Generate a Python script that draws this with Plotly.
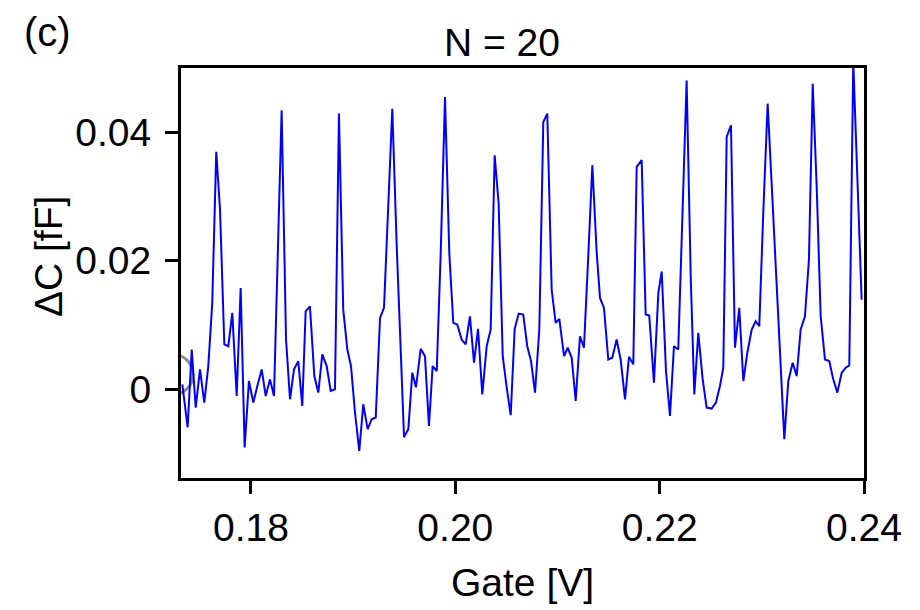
import plotly.graph_objects as go

# Gate voltage [V]
gate_v = [
    0.17328, 0.17380, 0.17420, 0.17459, 0.17501, 0.17543, 0.17582, 0.17621, 0.17660, 0.17697,
    0.17739, 0.17778, 0.17817, 0.17860, 0.17899, 0.17938, 0.17980, 0.18023, 0.18062, 0.18105,
    0.18144, 0.18186, 0.18225, 0.18267, 0.18300, 0.18343, 0.18382, 0.18421, 0.18463, 0.18502,
    0.18535, 0.18577, 0.18620, 0.18659, 0.18698, 0.18741, 0.18780, 0.18822, 0.18861, 0.18903,
    0.18943, 0.18979, 0.19018, 0.19060, 0.19099, 0.19142, 0.19181, 0.19221, 0.19263, 0.19302,
    0.19344, 0.19383, 0.19426, 0.19461, 0.19498, 0.19540, 0.19579, 0.19615, 0.19661, 0.19703,
    0.19742, 0.19778, 0.19818, 0.19857, 0.19899, 0.19941, 0.19980, 0.20019, 0.20062, 0.20101,
    0.20143, 0.20183, 0.20222, 0.20264, 0.20307, 0.20346, 0.20385, 0.20424, 0.20464, 0.20503,
    0.20542, 0.20581, 0.20620, 0.20665, 0.20704, 0.20741, 0.20780, 0.20822, 0.20861, 0.20900,
    0.20943, 0.20982, 0.21018, 0.21064, 0.21100, 0.21139, 0.21178, 0.21220, 0.21259, 0.21301,
    0.21341, 0.21384, 0.21416, 0.21455, 0.21497, 0.21536, 0.21579, 0.21618, 0.21661, 0.21700,
    0.21742, 0.21775, 0.21824, 0.21863, 0.21898, 0.21944, 0.21987, 0.22020, 0.22062, 0.22101,
    0.22140, 0.22182, 0.22221, 0.22264, 0.22304, 0.22339, 0.22378, 0.22421, 0.22460, 0.22509,
    0.22551, 0.22590, 0.22623, 0.22656, 0.22698, 0.22737, 0.22779, 0.22819, 0.22858, 0.22901,
    0.22940, 0.22975, 0.23014, 0.23057, 0.23096, 0.23139, 0.23178, 0.23220, 0.23259, 0.23302,
    0.23341, 0.23380, 0.23422, 0.23461, 0.23498, 0.23537, 0.23576, 0.23618, 0.23660, 0.23699,
    0.23739, 0.23782, 0.23821, 0.23856, 0.23895, 0.23977,
]

# Delta C [fF]
delta_c = [
    0.00078, -0.00594, 0.00620, -0.00284, 0.00310, -0.00206, 0.00361, 0.01344, 0.03695, 0.02791,
    0.00698, 0.00671, 0.01189, -0.00104, 0.01577, -0.00904, 0.00129, -0.00206, 0.00051, 0.00310,
    -0.00104, 0.00155, -0.00104, 0.02171, 0.04341, 0.00775, -0.00155, 0.00310, 0.00439, -0.00259,
    0.01214, 0.01291, 0.00206, -0.00051, 0.00543, 0.00361, -0.00026, 0.00000, 0.04290, 0.01240,
    0.00620, 0.00361, -0.00361, -0.00957, -0.00233, -0.00620, -0.00465, -0.00439, 0.01112, 0.01267,
    0.02817, 0.04367, 0.02248, 0.00775, -0.00744, -0.00620, 0.00259, 0.00031, 0.00631, 0.00516,
    -0.00569, 0.00361, 0.00284, 0.02119, 0.04547, 0.02119, 0.01034, 0.01008, 0.00775, 0.00698,
    0.01136, 0.00414, 0.00941, -0.00078, 0.00671, 0.00930, 0.03643, 0.02894, 0.00516, 0.00026,
    -0.00403, 0.00941, 0.01178, 0.01163, 0.00671, 0.00439, -0.00051, 0.00930, 0.04160, 0.04290,
    0.01550, 0.01034, 0.01096, 0.00516, 0.00647, 0.00491, -0.00181, 0.00826, 0.00647, 0.02067,
    0.03488, 0.02119, 0.01422, 0.01267, 0.00465, 0.00491, 0.00775, 0.00465, -0.00155, 0.00507,
    0.00388, 0.03462, 0.03566, 0.01163, 0.01147, 0.00104, 0.01499, 0.01834, 0.00284, -0.00414,
    0.00671, 0.00620, 0.02740, 0.04806, 0.01757, -0.00078, 0.00879, 0.00155, -0.00284, -0.00299,
    -0.00206, 0.00051, 0.00336, 0.03927, 0.04109, 0.00647, 0.01267, 0.00129, 0.00569, 0.00930,
    0.01059, 0.00981, 0.02740, 0.04445, 0.03204, 0.01809, 0.00465, -0.00775, 0.00129, 0.00414,
    0.00206, 0.00930, 0.01136, 0.02016, 0.04755, 0.03152, 0.01136, 0.00465, 0.00439, 0.00155,
    -0.00051, 0.00259, 0.00336, 0.00372, 0.05100, 0.01395,
]

# clipped grey circle marker at the left edge
marker_x = [0.17237]
marker_y = [0.0023]

x_ticks = [0.18, 0.20, 0.22, 0.24]
x_ticktext = ["0.18", "0.20", "0.22", "0.24"]
y_ticks = [0.0, 0.02, 0.04]
y_ticktext = ["0", "0.02", "0.04"]

FONT = "Liberation Sans, Arial, sans-serif"
FS = 39

fig = go.Figure()
fig.add_trace(go.Scatter(
    x=marker_x, y=marker_y, mode="markers",
    marker=dict(symbol="circle-open", size=40, color="#8c8c8c", line=dict(width=3, color="#8c8c8c")),
    showlegend=False, hoverinfo="skip", cliponaxis=True,
))
fig.add_trace(go.Scatter(
    x=gate_v, y=delta_c, mode="lines",
    line=dict(color="#0000ff", width=2),
    showlegend=False, cliponaxis=True,
))

axis_common = dict(
    showline=True, linecolor="black", linewidth=3, mirror=True,
    ticks="outside", ticklen=13, tickwidth=2.5, tickcolor="black",
    showgrid=False, zeroline=False,
    tickfont=dict(family=FONT, size=FS, color="black"),
)

fig.update_layout(
    width=920, height=610,
    margin=dict(l=181, r=56, t=68, b=132),
    plot_bgcolor="white", paper_bgcolor="white",
    font=dict(family=FONT, size=FS, color="black"),
    xaxis=dict(range=[0.17315, 0.2400], tickvals=x_ticks, ticktext=x_ticktext, **axis_common),
    yaxis=dict(range=[-0.0138, 0.0500], tickvals=y_ticks, ticktext=y_ticktext,
               ticklabelstandoff=6, **axis_common),
    annotations=[
        dict(text="(c)", xref="paper", yref="paper", x=-0.2328, y=1.0878,
             xanchor="left", yanchor="middle", showarrow=False,
             font=dict(family=FONT, size=40, color="black")),
        dict(text="N = 20", xref="paper", yref="paper", x=0.4693, y=1.0622,
             xanchor="center", yanchor="middle", showarrow=False,
             font=dict(family=FONT, size=FS, color="black")),
        dict(text="ΔC [fF]", xref="paper", yref="paper", x=-0.1947, y=0.539,
             xanchor="center", yanchor="middle", textangle=-90, showarrow=False,
             font=dict(family=FONT, size=FS, color="black")),
        dict(text="Gate [V]", xref="paper", yref="paper", x=0.5, y=-0.256,
             xanchor="center", yanchor="middle", showarrow=False,
             font=dict(family=FONT, size=FS, color="black")),
    ],
)

fig.write_html("out.html")
